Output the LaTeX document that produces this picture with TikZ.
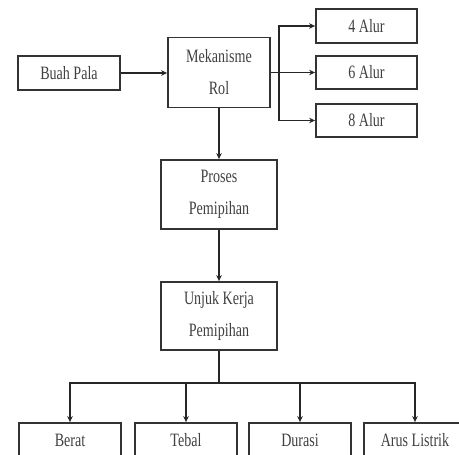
\documentclass[tikz,border=0pt]{standalone}
\usepackage{fontspec}
\setmainfont{Liberation Serif}
\usetikzlibrary{arrows.meta}
\newcommand{\tl}[1]{\scalebox{0.97}[1.3]{#1}}
\begin{document}
\begin{tikzpicture}[x=1pt,y=-1pt,
  box/.style={draw=black!80,line width=1.8pt,minimum width=102pt,inner sep=0pt,
     text=black!75,font=\fontsize{14.5}{32}\selectfont,align=center},
  conn/.style={draw=black!85,line width=1.4pt},
  arr/.style={conn,-{Stealth[length=6pt,width=5.5pt]}}]
\useasboundingbox (0,0) rectangle (459,455);
\clip (0,0) rectangle (459,455);
\node[box,minimum height=34pt] (buah) at (69,73) {\tl{Buah Pala}};
\node[box,minimum height=70pt] (mek) at (219,72.5) {\tl{Mekanisme}\\\tl{Rol}};
\node[box,minimum width=101pt,minimum height=34pt] (a4) at (366.5,26) {\tl{4 Alur}};
\node[box,minimum width=101pt,minimum height=33pt] (a6) at (366.5,72.5) {\tl{6 Alur}};
\node[box,minimum width=101pt,minimum height=33pt] (a8) at (366.5,120.5) {\tl{8 Alur}};
\node[box,minimum width=116pt,minimum height=69pt] (proses) at (219,194.5) {\tl{Proses}\\\tl{Pemipihan}};
\node[box,minimum width=116pt,minimum height=68pt] (unjuk) at (219,316) {\tl{Unjuk Kerja}\\\tl{Pemipihan}};
\node[box,minimum height=34pt] (berat) at (70,440) {\tl{Berat}};
\node[box,minimum height=34pt] (tebal) at (186,440) {\tl{Tebal}};
\node[box,minimum height=34pt] (durasi) at (300,440) {\tl{Durasi}};
\node[box,minimum height=34pt] (arus) at (415,440) {\tl{Arus Listrik}};
\coordinate (br) at (279,72.5);
\coordinate (bj) at (219,383);
\draw[arr] (buah.east) -- (mek.west |- buah.east);
\draw[conn] (mek.east) -- (br);
\draw[arr] (br) |- (a4.west);
\draw[arr] (br) -- (a6.west);
\draw[arr] (br) |- (a8.west);
\draw[arr] (mek.south) -- (proses.north);
\draw[arr] (proses.south) -- (unjuk.north);
\draw[conn] (unjuk.south) -- (bj);
\draw[arr] (bj) -| (berat.north);
\draw[arr] (bj) -| (tebal.north);
\draw[arr] (bj) -| (durasi.north);
\draw[arr] (bj) -| (arus.north);
\end{tikzpicture}
\end{document}
